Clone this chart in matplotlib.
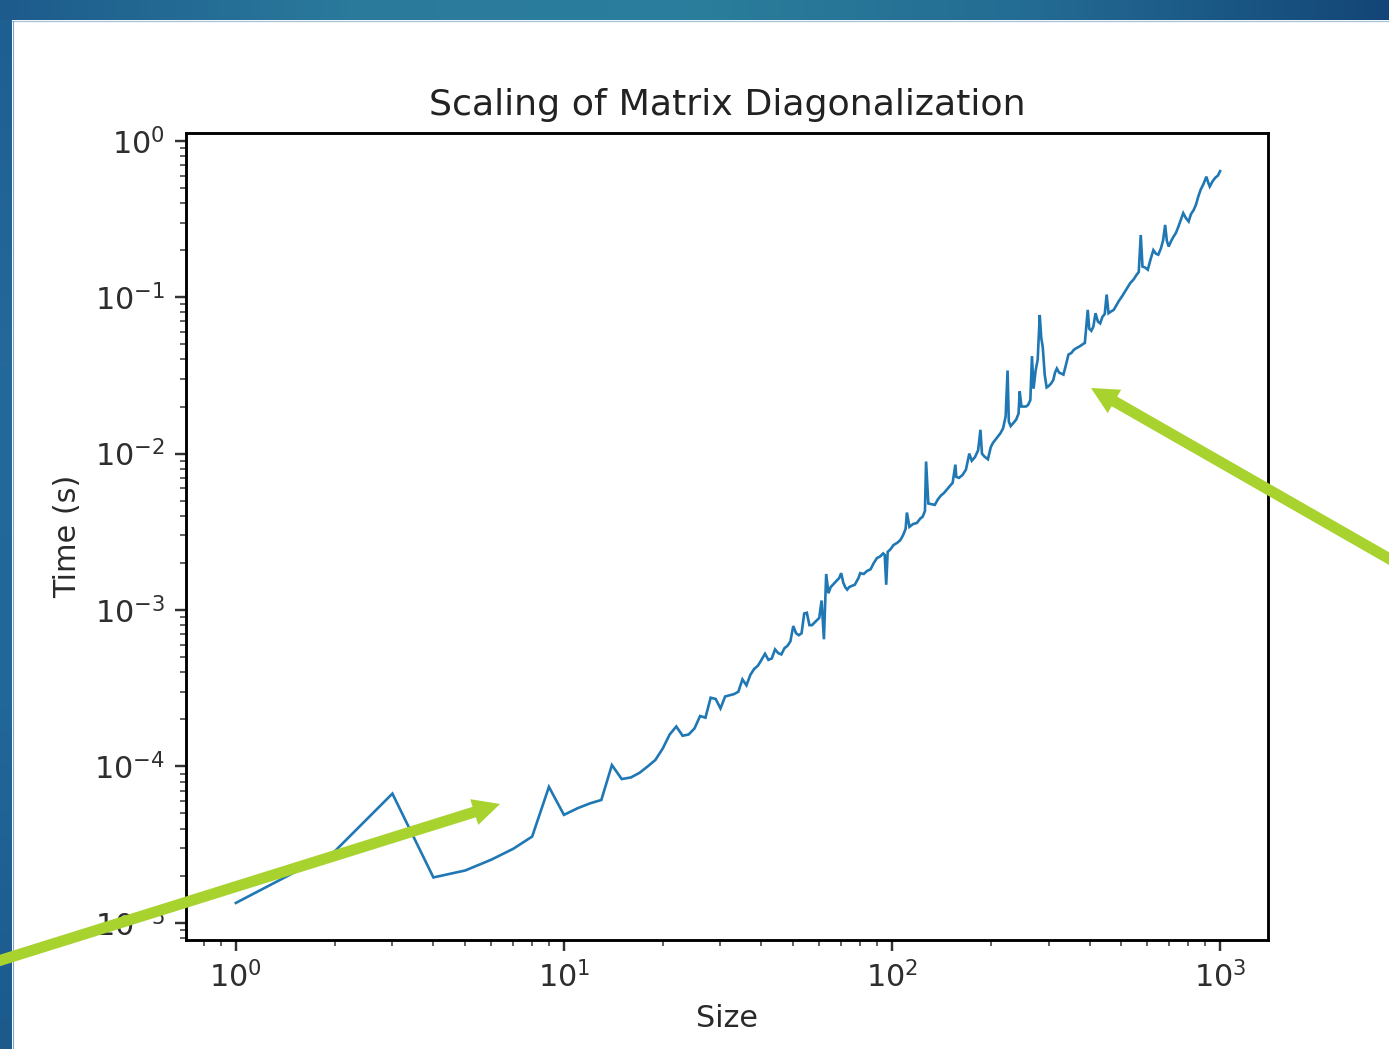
import numpy as np
import matplotlib
matplotlib.use("Agg")
import matplotlib.pyplot as plt
from matplotlib import transforms
from matplotlib.patches import FancyArrow
from matplotlib.colors import LinearSegmentedColormap

# ---- data ----
sizes = [1, 2, 3, 4, 5, 6, 7, 8, 9, 10, 11, 12, 13, 14, 15, 16, 17, 18, 19, 20,
         21, 22, 23, 24, 25, 26, 27, 28, 29, 30, 31, 32, 33, 34, 35, 36, 37, 38, 39, 40,
         41, 42, 43, 44, 45, 46, 47, 48, 49, 50, 51, 52, 53, 54, 55, 56, 57, 58, 59, 60,
         61, 62, 63, 64, 65, 66, 67, 68, 69, 70, 71, 72, 73, 74, 75, 77, 79, 80, 82, 84,
         86, 88, 90, 92, 94, 95, 96, 97, 99, 101, 104, 106, 108, 110, 111, 113, 116, 119, 122, 124,
         126, 127, 129, 132, 135, 138, 141, 144, 147, 150, 153, 156, 157, 160, 164, 168, 172, 175, 179, 183,
         186, 188, 191, 196, 200, 203, 208, 214, 218, 222, 225, 227, 230, 235, 239, 243, 245, 248, 252, 256,
         260, 264, 267, 270, 274, 278, 282, 285, 288, 292, 296, 300, 305, 310, 314, 318, 323, 328, 333, 339,
         345, 352, 358, 363, 370, 376, 381, 387, 395, 399, 405, 411, 417, 424, 431, 438, 445, 451, 457, 465,
         474, 483, 492, 502, 512, 522, 532, 545, 555, 565, 573, 577, 580, 590, 602, 614, 626, 637, 648, 660,
         670, 680, 688, 697, 710, 722, 733, 745, 758, 772, 787, 802, 815, 830, 844, 858, 872, 890, 908, 920,
         930, 948, 966, 985, 1000]
times = [1.34e-5, 2.86e-5, 6.7e-5, 1.95e-5, 2.16e-5, 2.53e-5, 2.97e-5, 3.56e-5, 7.4e-5, 4.9e-5,
         5.4e-5, 5.8e-5, 6.1e-5, 1.02e-4, 8.3e-5, 8.5e-5, 9.1e-5, 1.0e-4, 1.1e-4, 1.3e-4,
         1.6e-4, 1.8e-4, 1.57e-4, 1.6e-4, 1.75e-4, 2.1e-4, 2.05e-4, 2.75e-4, 2.7e-4, 2.35e-4,
         2.8e-4, 2.85e-4, 2.9e-4, 3.0e-4, 3.6e-4, 3.3e-4, 3.85e-4, 4.2e-4, 4.4e-4, 4.8e-4,
         5.25e-4, 4.8e-4, 4.9e-4, 5.6e-4, 5.3e-4, 5.2e-4, 5.7e-4, 5.9e-4, 6.3e-4, 7.9e-4,
         7.1e-4, 6.9e-4, 7.1e-4, 9.5e-4, 9.6e-4, 8.0e-4, 8.0e-4, 8.3e-4, 8.6e-4, 8.9e-4,
         1.15e-3, 6.5e-4, 1.7e-3, 1.28e-3, 1.4e-3, 1.45e-3, 1.5e-3, 1.55e-3, 1.6e-3, 1.72e-3,
         1.5e-3, 1.4e-3, 1.35e-3, 1.4e-3, 1.42e-3, 1.45e-3, 1.6e-3, 1.72e-3, 1.7e-3, 1.78e-3,
         1.82e-3, 2.0e-3, 2.15e-3, 2.2e-3, 2.3e-3, 2.25e-3, 1.45e-3, 2.35e-3, 2.45e-3, 2.6e-3,
         2.7e-3, 2.8e-3, 3.0e-3, 3.3e-3, 4.2e-3, 3.4e-3, 3.55e-3, 3.6e-3, 3.85e-3, 3.95e-3,
         4.3e-3, 8.9e-3, 4.8e-3, 4.75e-3, 4.7e-3, 5.1e-3, 5.4e-3, 5.6e-3, 5.9e-3, 6.2e-3,
         6.5e-3, 8.5e-3, 7.1e-3, 7.0e-3, 7.3e-3, 7.9e-3, 1.0e-2, 9.0e-3, 9.5e-3, 1.05e-2,
         1.42e-2, 1.0e-2, 9.6e-3, 9.2e-3, 1.1e-2, 1.17e-2, 1.25e-2, 1.35e-2, 1.45e-2, 1.73e-2,
         3.4e-2, 1.6e-2, 1.5e-2, 1.58e-2, 1.65e-2, 1.8e-2, 2.5e-2, 2.0e-2, 2.0e-2, 2.0e-2,
         2.05e-2, 2.2e-2, 4.2e-2, 2.6e-2, 3.4e-2, 4.0e-2, 7.7e-2, 5.5e-2, 4.8e-2, 3.2e-2,
         2.65e-2, 2.7e-2, 2.8e-2, 2.95e-2, 3.3e-2, 3.5e-2, 3.3e-2, 3.25e-2, 3.2e-2, 3.7e-2,
         4.3e-2, 4.4e-2, 4.6e-2, 4.7e-2, 4.8e-2, 4.9e-2, 5.0e-2, 5.1e-2, 8.3e-2, 6.3e-2,
         6.1e-2, 6.5e-2, 7.9e-2, 7.0e-2, 6.8e-2, 7.5e-2, 7.8e-2, 1.04e-1, 7.9e-2, 8.1e-2,
         8.3e-2, 8.9e-2, 9.5e-2, 1.01e-1, 1.08e-1, 1.15e-1, 1.23e-1, 1.3e-1, 1.38e-1, 1.45e-1,
         2.5e-1, 1.9e-1, 1.57e-1, 1.55e-1, 1.5e-1, 1.75e-1, 2.0e-1, 1.9e-1, 1.87e-1, 2.05e-1,
         2.3e-1, 2.9e-1, 2.3e-1, 2.11e-1, 2.3e-1, 2.45e-1, 2.57e-1, 2.8e-1, 3.1e-1, 3.45e-1,
         3.2e-1, 3.05e-1, 3.4e-1, 3.6e-1, 3.9e-1, 4.4e-1, 4.86e-1, 5.3e-1, 5.9e-1, 5.4e-1,
         5.1e-1, 5.5e-1, 5.8e-1, 6.0e-1, 6.4e-1]

title = "Scaling of Matrix Diagonalization"
xlabel = "Size"
ylabel = "Time (s)"

W, H, DPI = 1389, 1049, 100
S = 2.18  # upscaling of the original default figure

fig = plt.figure(figsize=(W / DPI, H / DPI), dpi=DPI)
fig.patch.set_facecolor("white")

# ---- slide background frame ----
bg = fig.add_axes([0, 0, 1, 1], zorder=-10)
bg.set_xlim(0, W)
bg.set_ylim(H, 0)
bg.axis("off")
top_cmap = LinearSegmentedColormap.from_list(
    "top", ["#1d5b8c", "#2a7a9c", "#2b7e9c", "#236b93", "#134678"])
bg.imshow(np.linspace(0, 1, 256)[None, :], cmap=top_cmap, aspect="auto",
          extent=(0, W, 20, 0), interpolation="bilinear")
left_cmap = LinearSegmentedColormap.from_list(
    "left", ["#1e5f91", "#24699a", "#22679a", "#1c5a8c"])
bg.imshow(np.linspace(0, 1, 256)[:, None], cmap=left_cmap, aspect="auto",
          extent=(0, 12, H, 20), interpolation="bilinear")
bg.plot([12, W], [21, 21], color="#a9c6dc", lw=1.0)
bg.plot([12.5, 12.5], [21, H], color="#7fa6c4", lw=0.8)

# ---- main chart ----
ax = fig.add_axes([186 / W, 1 - 940 / H, (1268 - 186) / W, (940 - 133) / H])
ax.plot(sizes, times, color="#1f77b4", lw=1.9, solid_joinstyle="miter")
ax.set_xscale("log")
ax.set_yscale("log")
ax.set_xlim(10 ** -0.152, 10 ** 3.146)
ax.set_ylim(10 ** -5.11, 10 ** 0.05)

ax.set_title(title, fontsize=12 * S, pad=6 * S, color="#222222")
ax.set_xlabel(xlabel, fontsize=10 * S, labelpad=3.5 * S, color="#2a2a2a")
ax.set_ylabel(ylabel, fontsize=10 * S, labelpad=4 * S, color="#2a2a2a")
for sp in ax.spines.values():
    sp.set_linewidth(0.95 * S)
ax.tick_params(which="major", length=3.5 * S, width=0.8 * S, labelsize=10 * S,
               labelcolor="#2e2e2e", color="#333333", pad=3.5 * S)
ax.tick_params(which="minor", length=2 * S, width=0.6 * S, color="#555555")

# ---- green call-out arrows (figure pixel coordinates) ----
px = transforms.Affine2D().scale(1 / DPI) + fig.dpi_scale_trans
green = "#a8d22e"

def arrow(x0, y0, x1, y1):
    a = FancyArrow(x0, H - y0, x1 - x0, -(y1 - y0), width=11, head_width=27,
                   head_length=27, length_includes_head=True, color=green,
                   transform=px, zorder=20, lw=0)
    fig.add_artist(a)

arrow(-5, 962, 500, 804)
arrow(1395, 562, 1091, 388)

fig.savefig("out.png", dpi=DPI)
